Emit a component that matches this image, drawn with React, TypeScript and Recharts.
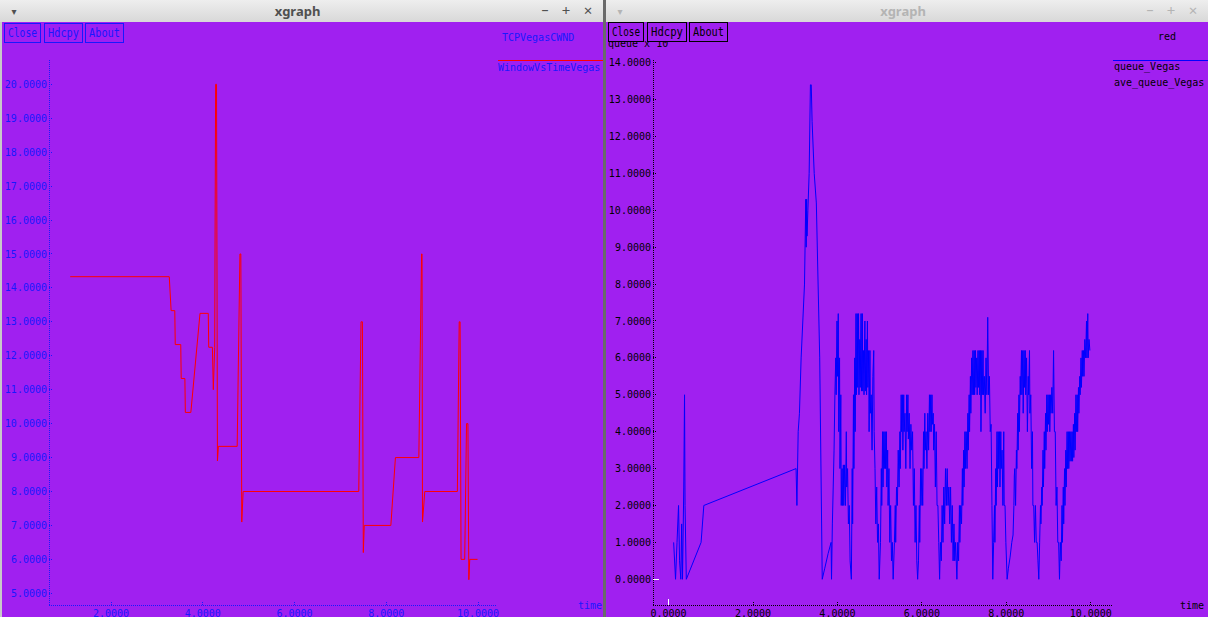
import React from 'react'
import { LineChart, Line, XAxis, YAxis } from 'recharts'

// TCP Vegas congestion window (time, cwnd)
const cwndSeries: [number, number][] = [
  [1.11, 14.33], [3.27, 14.33], [3.31, 13.33], [3.39, 13.33], [3.4, 12.33], [3.52, 12.33],
  [3.53, 11.33], [3.61, 11.33], [3.62, 10.33], [3.74, 10.33], [3.94, 13.25], [4.12, 13.25],
  [4.13, 12.25], [4.21, 12.25], [4.23, 11.0], [4.26, 12.25], [4.28, 20.0], [4.3, 20.0],
  [4.32, 8.9], [4.34, 9.33], [4.75, 9.33], [4.81, 15.0], [4.83, 15.0], [4.85, 7.1],
  [4.88, 8.0], [7.4, 8.0], [7.45, 13.0], [7.48, 13.0], [7.5, 6.2], [7.52, 7.0],
  [8.1, 7.0], [8.2, 9.0], [8.71, 9.0], [8.77, 15.0], [8.78, 15.0], [8.79, 7.1],
  [8.84, 8.0], [9.55, 8.0], [9.59, 13.0], [9.61, 13.0], [9.63, 6.0], [9.71, 6.0],
  [9.75, 10.0], [9.78, 10.0], [9.8, 5.4], [9.82, 6.0], [9.99, 6.0],
]

// RED queue length (time, packets)
const queueSeries: [number, number][] = [
  [0.12, 1], [0.165, 0], [0.2, 1], [0.236, 2], [0.26, 0.5], [0.29, 0], [0.31, 1.5], [0.33, 0],
  [0.36, 2.5], [0.378, 5], [0.39, 2], [0.42, 0],
  [0.77, 1], [0.835, 2], [3.02, 3], [3.04, 2], [3.07, 4], [3.1, 4.5], [3.14, 6], [3.18, 7],
  [3.22, 8], [3.25, 10.3], [3.26, 9], [3.27, 10.3], [3.28, 9.3], [3.3, 10], [3.33, 11],
  [3.36, 13.4], [3.38, 13.4], [3.4, 12.4], [3.45, 11], [3.5, 10.2], [3.58, 6], [3.64, 0],
  [3.7, 0.3], [3.78, 0.7], [3.85, 1], [3.86, 0], [3.88, 1.5], [3.9, 2.5], [3.92, 3.5], [3.94, 5],
  [3.96, 6], [3.97, 5], [3.99, 7], [4.0, 5.5], [4.02, 7.2], [4.03, 4], [4.05, 6], [4.06, 3],
  [4.08, 5], [4.09, 2], [4.11, 3], [4.12, 2], [4.14, 3.1], [4.15, 2], [4.17, 3.1], [4.19, 2],
  [4.21, 4], [4.22, 2.5], [4.24, 3], [4.26, 1.5], [4.28, 2], [4.3, 0.5], [4.33, 0],
  [4.35, 3], [4.36, 1.5], [4.38, 5], [4.39, 3], [4.41, 6], [4.42, 4], [4.44, 7.2], [4.45, 5],
  [4.47, 7.2], [4.48, 5.2], [4.5, 7.2], [4.51, 5], [4.53, 6.5], [4.54, 5.2], [4.56, 7.2],
  [4.57, 5.1], [4.59, 7.2], [4.6, 5.1], [4.62, 6.2], [4.63, 5], [4.65, 7], [4.66, 5.1],
  [4.68, 6.5], [4.69, 5], [4.71, 7], [4.72, 5.2], [4.74, 6.2], [4.75, 4], [4.77, 6.2],
  [4.78, 4.5], [4.8, 5], [4.82, 3.5], [4.84, 5.5], [4.86, 6.2], [4.87, 4], [4.89, 3],
  [4.91, 1.5], [4.93, 2.5], [4.95, 1], [4.97, 1.5], [4.99, 0],
  [5.02, 1], [5.04, 3], [5.05, 2], [5.07, 4], [5.08, 2.5], [5.1, 4], [5.11, 3], [5.13, 4],
  [5.14, 3], [5.16, 4], [5.17, 2.5], [5.19, 3.5], [5.2, 2], [5.22, 3], [5.24, 1], [5.26, 2],
  [5.28, 0.5], [5.3, 1], [5.32, 0],
  [5.35, 1], [5.37, 2], [5.38, 1], [5.4, 2.5], [5.42, 2], [5.44, 3.5], [5.46, 2.5], [5.48, 4],
  [5.49, 3], [5.51, 5], [5.52, 4], [5.54, 5], [5.55, 3.5], [5.57, 5], [5.58, 4], [5.6, 4.5],
  [5.62, 3], [5.64, 5], [5.65, 4], [5.67, 5], [5.68, 3.8], [5.7, 4.5], [5.72, 3], [5.74, 4.2],
  [5.76, 3.5], [5.78, 4], [5.8, 2], [5.82, 3], [5.84, 1], [5.86, 2], [5.88, 0.5], [5.9, 0],
  [5.92, 0.5], [5.94, 2], [5.95, 1], [5.97, 3], [5.98, 2], [6.0, 3], [6.02, 2], [6.04, 4],
  [6.05, 3], [6.07, 4.5], [6.08, 3.5], [6.1, 4], [6.12, 3], [6.14, 4.5], [6.16, 3.5], [6.18, 5],
  [6.19, 4], [6.21, 5], [6.22, 4], [6.24, 5], [6.25, 4.2], [6.27, 4.5], [6.28, 3.5], [6.3, 4.2],
  [6.32, 2.5], [6.34, 4], [6.36, 2], [6.38, 2], [6.4, 1], [6.42, 0],
  [6.44, 1], [6.46, 0.5], [6.48, 2], [6.5, 1], [6.52, 2.5], [6.54, 1.5], [6.56, 3], [6.58, 2],
  [6.6, 3], [6.62, 2], [6.64, 2.5], [6.66, 1.5], [6.68, 2.5], [6.7, 1], [6.72, 2], [6.74, 0.5],
  [6.76, 1.5], [6.78, 0.5], [6.8, 1], [6.83, 0],
  [6.85, 1], [6.87, 0.5], [6.89, 2], [6.9, 1], [6.92, 2], [6.94, 1.5], [6.96, 3], [6.97, 2],
  [6.99, 3.5], [7.0, 2.5], [7.02, 4], [7.03, 3], [7.05, 4], [7.07, 3], [7.09, 4.5], [7.1, 3.5],
  [7.12, 5], [7.13, 4], [7.15, 5.5], [7.16, 4.5], [7.18, 6], [7.19, 5], [7.21, 6.2], [7.22, 5],
  [7.24, 6.2], [7.25, 5], [7.27, 6.2], [7.28, 5.2], [7.3, 6], [7.31, 5], [7.33, 6.2], [7.34, 5.2],
  [7.36, 6.2], [7.37, 5], [7.39, 6.2], [7.4, 4], [7.42, 6.2], [7.43, 5], [7.45, 6.2], [7.46, 5],
  [7.48, 5.5], [7.5, 4.5], [7.52, 6], [7.54, 5], [7.56, 7.1], [7.58, 5], [7.6, 5.5], [7.62, 4],
  [7.64, 4.2], [7.66, 2], [7.68, 0],
  [7.7, 1], [7.72, 2], [7.73, 1], [7.75, 3], [7.76, 2], [7.78, 4], [7.79, 2.5], [7.81, 4],
  [7.82, 3], [7.84, 4], [7.85, 2.5], [7.87, 4], [7.88, 3], [7.9, 3.5], [7.92, 2], [7.94, 4],
  [7.95, 2], [7.97, 2], [7.99, 1], [8.02, 0],
  [8.05, 0.3], [8.09, 0.6], [8.13, 1], [8.16, 1.2], [8.18, 2], [8.19, 2.8], [8.2, 3], [8.22, 2],
  [8.24, 3.5], [8.25, 3], [8.27, 4.5], [8.28, 3.5], [8.3, 5], [8.31, 4], [8.33, 5.5], [8.34, 5],
  [8.36, 6.2], [8.37, 5], [8.39, 6.2], [8.4, 4.5], [8.42, 6.2], [8.43, 5.2], [8.45, 6.2],
  [8.46, 5], [8.48, 6], [8.5, 4], [8.52, 5.5], [8.53, 5], [8.55, 6.2], [8.56, 4.5], [8.58, 5],
  [8.6, 3], [8.62, 4], [8.63, 2], [8.65, 2], [8.67, 1], [8.69, 2], [8.71, 1], [8.73, 1],
  [8.75, 0.5], [8.77, 0],
  [8.79, 1], [8.81, 2], [8.82, 1.5], [8.84, 2.5], [8.85, 2], [8.87, 3.5], [8.88, 2.5], [8.9, 4],
  [8.91, 3], [8.93, 4.5], [8.94, 3.5], [8.96, 5], [8.97, 4], [8.99, 5], [9.0, 4.2], [9.02, 5],
  [9.03, 4], [9.05, 5], [9.06, 4.5], [9.08, 5.2], [9.1, 4.5], [9.12, 6.2], [9.14, 4], [9.16, 4],
  [9.18, 2], [9.2, 2.5], [9.22, 1], [9.24, 1], [9.26, 0],
  [9.28, 1], [9.3, 0.5], [9.32, 2], [9.33, 1], [9.35, 2.5], [9.36, 1.5], [9.38, 3], [9.39, 2],
  [9.41, 3.5], [9.42, 2.5], [9.44, 4], [9.45, 3], [9.47, 4], [9.48, 3], [9.5, 4], [9.51, 3.2],
  [9.53, 4], [9.54, 3.2], [9.56, 4], [9.57, 3.2], [9.59, 4.2], [9.6, 3.3], [9.62, 4.5],
  [9.63, 3.5], [9.65, 5], [9.66, 4], [9.68, 5], [9.69, 4], [9.71, 5.2], [9.72, 4.5], [9.74, 5.5],
  [9.75, 5], [9.77, 6], [9.78, 5.2], [9.8, 6.2], [9.81, 5.5], [9.83, 6.2], [9.84, 5.5],
  [9.86, 6.5], [9.88, 6], [9.9, 7], [9.91, 6], [9.93, 7.2], [9.94, 6], [9.96, 6.5], [9.98, 6.2],
]

const cwndXTicks = [2, 4, 6, 8, 10]
const cwndYTicks = [5, 6, 7, 8, 9, 10, 11, 12, 13, 14, 15, 16, 17, 18, 19, 20]
const queueXTicks = [0, 2, 4, 6, 8, 10]
const queueYTicks = [0, 1, 2, 3, 4, 5, 6, 7, 8, 9, 10, 11, 12, 13, 14]

const cwndXDomain: [number, number] = [0.648, 10.414]
const cwndYDomain: [number, number] = [4.655, 20.716]
const queueXDomain: [number, number] = [-0.369, 10.504]
const queueYDomain: [number, number] = [-0.697, 14.073]

const PURPLE = '#a020f0'
const BLUE = '#1818ff'
const MONO = '"DejaVu Sans Mono", monospace'
const SANS = '"Noto Sans", "DejaVu Sans", sans-serif'

const fmt = (v: number) => v.toFixed(4)

type Side = 'left' | 'right' | 'top' | 'bottom'

function tickFor(side: Side, color: string) {
  return function AxisTick(props: any) {
    const { x, y, payload } = props
    const v = payload.value as number
    const zero = v === 0
    const stroke = zero ? '#ffffff' : color
    const len = zero ? 6 : 4
    const dash = zero ? undefined : '1 1'
    const label = { fill: color, fontSize: 10, fontFamily: MONO }
    if (side === 'left') {
      return (
        <g>
          <line x1={x + 2} y1={y} x2={x + 2 + len} y2={y} stroke={stroke} strokeDasharray={dash} shapeRendering="crispEdges" />
          <text x={x} y={y} dy="0.36em" textAnchor="end" {...label}>{fmt(v)}</text>
        </g>
      )
    }
    if (side === 'right') {
      return <line x1={x} y1={y} x2={x - len} y2={y} stroke={stroke} strokeDasharray={dash} shapeRendering="crispEdges" />
    }
    if (side === 'top') {
      return <line x1={x} y1={y} x2={x} y2={y + len} stroke={stroke} strokeDasharray={dash} shapeRendering="crispEdges" />
    }
    return (
      <g>
        <line x1={x} y1={y - 5} x2={x} y2={y - 5 - len} stroke={stroke} strokeDasharray={dash} shapeRendering="crispEdges" />
        <text x={x} y={y} dy="0.71em" textAnchor="middle" {...label}>{fmt(v)}</text>
      </g>
    )
  }
}

interface PlotProps {
  data: { t: number; v: number }[]
  stroke: string
  axisColor: string
  xDomain: [number, number]
  yDomain: [number, number]
  xTicks: number[]
  yTicks: number[]
  width: number
  yAxisWidth: number
  marginRight: number
}

function XGraphPlot({ data, stroke, axisColor, xDomain, yDomain, xTicks, yTicks, width, yAxisWidth, marginRight }: PlotProps) {
  const box = { stroke: axisColor, strokeDasharray: '1 1', shapeRendering: 'crispEdges' }
  return (
    <LineChart width={width} height={595} data={data} margin={{ top: 38, right: marginRight, bottom: 0, left: 0 }}>
      <XAxis xAxisId="b" type="number" dataKey="t" domain={xDomain} ticks={xTicks} interval={0} allowDataOverflow
        height={12} tickSize={0} tickMargin={5} tickLine={false} axisLine={box} tick={tickFor('bottom', axisColor)} />
      <XAxis xAxisId="t" orientation="top" type="number" dataKey="t" domain={xDomain} ticks={xTicks} interval={0} allowDataOverflow
        height={0} tickSize={0} tickMargin={0} tickLine={false} axisLine={box} tick={tickFor('top', axisColor)} />
      <YAxis yAxisId="l" type="number" domain={yDomain} ticks={yTicks} interval={0} allowDataOverflow
        width={yAxisWidth} tickSize={0} tickMargin={2} tickLine={false} axisLine={box} tick={tickFor('left', axisColor)} />
      <YAxis yAxisId="r" orientation="right" type="number" domain={yDomain} ticks={yTicks} interval={0} allowDataOverflow
        width={0} tickSize={0} tickMargin={0} tickLine={false} axisLine={box} tick={tickFor('right', axisColor)} />
      <Line xAxisId="b" yAxisId="l" type="linear" dataKey="v" stroke={stroke} strokeWidth={1} dot={false} isAnimationActive={false} />
    </LineChart>
  )
}

function TitleBar({ x, width, active }: { x: number; width: number; active: boolean }) {
  const fg = active ? '#505050' : '#b4b4b4'
  const right = x + width
  return (
    <g>
      <rect x={x} y={0} width={width} height={22} fill="url(#titleGrad)" />
      <text x={x + 14} y={15} fontSize={10} fill={fg} fontFamily={SANS} textAnchor="middle">▾</text>
      <text x={x + width / 2 - 4} y={16} fontSize={13} fontWeight="bold" fill={fg} fontFamily={SANS} textAnchor="middle">xgraph</text>
      <text x={right - 58} y={15} fontSize={14} fill={fg} fontFamily={SANS} textAnchor="middle">–</text>
      <text x={right - 37} y={16} fontSize={15} fill={fg} fontFamily={SANS} textAnchor="middle">+</text>
      <text x={right - 15} y={16} fontSize={15} fill={fg} fontFamily={SANS} textAnchor="middle">×</text>
    </g>
  )
}

function Button({ x, y, w, h, label, color }: { x: number; y: number; w: number; h: number; label: string; color: string }) {
  return (
    <g>
      <rect x={x + 0.5} y={y + 0.5} width={w} height={h} fill={PURPLE} stroke={color} strokeWidth={1} />
      <text x={x + 4} y={y + 14} fontSize={12} fontFamily={MONO} fill={color} textLength={w - 7} lengthAdjust="spacingAndGlyphs">{label}</text>
    </g>
  )
}

export default function App() {
  const cwndData = cwndSeries.map(([t, v]) => ({ t, v }))
  const queueData = queueSeries.map(([t, v]) => ({ t, v }))
  const txt = { fontSize: 10, fontFamily: MONO }

  return (
    <div style={{ position: 'absolute', left: 0, top: 0, width: 1208, height: 617, overflow: 'hidden', background: '#5e5e5e' }}>
      <svg width={1208} height={617} style={{ position: 'absolute', left: 0, top: 0 }}>
        <defs>
          <linearGradient id="titleGrad" x1="0" y1="0" x2="0" y2="1">
            <stop offset="0" stopColor="#eeeeee" />
            <stop offset="1" stopColor="#d8d8d8" />
          </linearGradient>
        </defs>
        {/* left window */}
        <rect x={0} y={0} width={603} height={617} fill="#c9c9c9" />
        <TitleBar x={0} width={603} active />
        <rect x={2} y={22} width={601} height={595} fill={PURPLE} />
        <text x={502} y={41} fill={BLUE} {...txt}>TCPVegasCWND</text>
        <line x1={498} y1={60.5} x2={603} y2={60.5} stroke="#ff0000" />
        <text x={498} y={71} fill={BLUE} {...txt}>WindowVsTimeVegas</text>
        <text x={578} y={609} fill={BLUE} {...txt}>time</text>
        <Button x={4} y={23} w={36} h={19} label="Close" color={BLUE} />
        <Button x={44} y={23} w={38} h={19} label="Hdcpy" color={BLUE} />
        <Button x={85} y={23} w={38} h={19} label="About" color={BLUE} />

        {/* right window */}
        <rect x={603} y={0} width={3} height={617} fill="#6a6a6a" />
        <TitleBar x={606} width={602} active={false} />
        <rect x={606} y={22} width={602} height={595} fill={PURPLE} />
        <text x={608} y={47} fill="#000" {...txt}>queue x 10</text>
        <text x={669} y={42} fill="#000" fontSize={7} fontFamily={MONO}>0</text>
        <text x={1158} y={40} fill="#000" {...txt}>red</text>
        <line x1={1113} y1={60.5} x2={1208} y2={60.5} stroke="#0000ff" />
        <text x={1114} y={70} fill="#000" {...txt}>queue_Vegas</text>
        <text x={1114} y={86} fill="#000" {...txt}>ave_queue_Vegas</text>
        <text x={1180} y={609} fill="#000" {...txt}>time</text>
        <Button x={608} y={22} w={35} h={19} label="Close" color="#000" />
        <Button x={647} y={22} w={39} h={19} label="Hdcpy" color="#000" />
        <Button x={689} y={22} w={38} h={19} label="About" color="#000" />
      </svg>

      <div style={{ position: 'absolute', left: 0, top: 22 }}>
        <XGraphPlot data={cwndData} stroke="#ff0000" axisColor={BLUE} xDomain={cwndXDomain} yDomain={cwndYDomain}
          xTicks={cwndXTicks} yTicks={cwndYTicks} width={603} yAxisWidth={49} marginRight={106} />
      </div>
      <div style={{ position: 'absolute', left: 606, top: 22 }}>
        <XGraphPlot data={queueData} stroke="#0000ff" axisColor="#000000" xDomain={queueXDomain} yDomain={queueYDomain}
          xTicks={queueXTicks} yTicks={queueYTicks} width={602} yAxisWidth={47} marginRight={96} />
      </div>
    </div>
  )
}
